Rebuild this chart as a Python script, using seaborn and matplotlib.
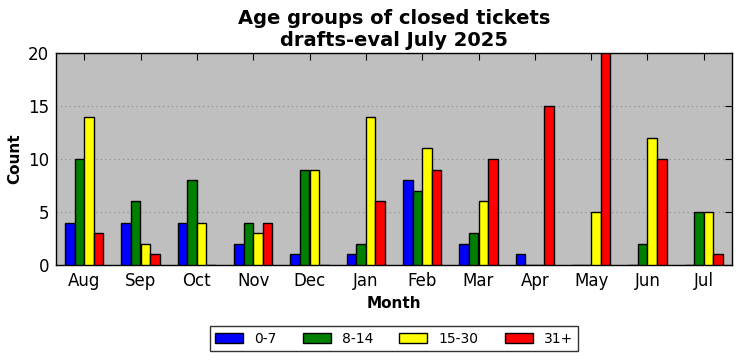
import matplotlib
matplotlib.use("Agg")
import matplotlib.pyplot as plt
import seaborn as sns
import pandas as pd

months = ["Aug", "Sep", "Oct", "Nov", "Dec", "Jan", "Feb", "Mar", "Apr", "May", "Jun", "Jul"]
groups = ["0-7", "8-14", "15-30", "31+"]
g0_7 = [4, 4, 4, 2, 1, 1, 8, 2, 1, 0, 0, 0]
g8_14 = [10, 6, 8, 4, 9, 2, 7, 3, 0, 0, 2, 5]
g15_30 = [14, 2, 4, 3, 9, 14, 11, 6, 0, 5, 12, 5]
g31 = [3, 1, 0, 4, 0, 6, 9, 10, 15, 20, 10, 1]
colors = ["#0000ff", "#008000", "#ffff00", "#ff0000"]

rows = []
for g, vals in zip(groups, [g0_7, g8_14, g15_30, g31]):
    for m, v in zip(months, vals):
        rows.append({"Month": m, "Age": g, "Count": v})
df = pd.DataFrame(rows)

sns.set_style("white")
plt.rcParams["font.family"] = ["DejaVu Sans"]
plt.rcParams["text.color"] = "black"
plt.rcParams["axes.labelcolor"] = "black"
plt.rcParams["xtick.color"] = "black"
plt.rcParams["ytick.color"] = "black"

fig = plt.figure(figsize=(7.42, 3.61), dpi=100)
ax = fig.add_axes([56 / 742, 1 - 265 / 361, 676 / 742, 212 / 361])
ax.set_facecolor("#bfbfbf")

sns.barplot(data=df, x="Month", y="Count", hue="Age", order=months, hue_order=groups,
            palette=colors, width=0.68, edgecolor="black", linewidth=1.0,
            saturation=1, ax=ax, zorder=3)

ax.set_xlim(-0.5, 11.5)
ax.set_ylim(0, 20)
ax.set_yticks([0, 5, 10, 15, 20])
ax.yaxis.grid(True, linestyle=(0, (1, 3)), color="#888888", linewidth=0.8, zorder=0)
ax.xaxis.grid(False)
ax.set_axisbelow(True)
for s in ax.spines.values():
    s.set_visible(True)
    s.set_color("black")
    s.set_linewidth(1.0)
ax.tick_params(axis="both", direction="in", top=True, right=True, length=5,
               width=0.8, labelsize=12, color="black", labelcolor="black", pad=5)
ax.set_xlabel("Month", fontsize=11, fontweight="bold", color="black")
ax.set_ylabel("Count", fontsize=11, fontweight="bold", color="black")
ax.set_title("Age groups of closed tickets\ndrafts-eval July 2025", fontsize=14,
             fontweight="bold", pad=5, color="black")

leg = ax.legend(loc="upper center", bbox_to_anchor=(0.5, -0.255), ncol=4, frameon=True,
                fancybox=False, edgecolor="black", fontsize=10, handlelength=2.0,
                handleheight=0.7, columnspacing=1.9, borderpad=0.4)
for t in leg.get_texts():
    t.set_color("black")

fig.savefig("out.png", dpi=100)
